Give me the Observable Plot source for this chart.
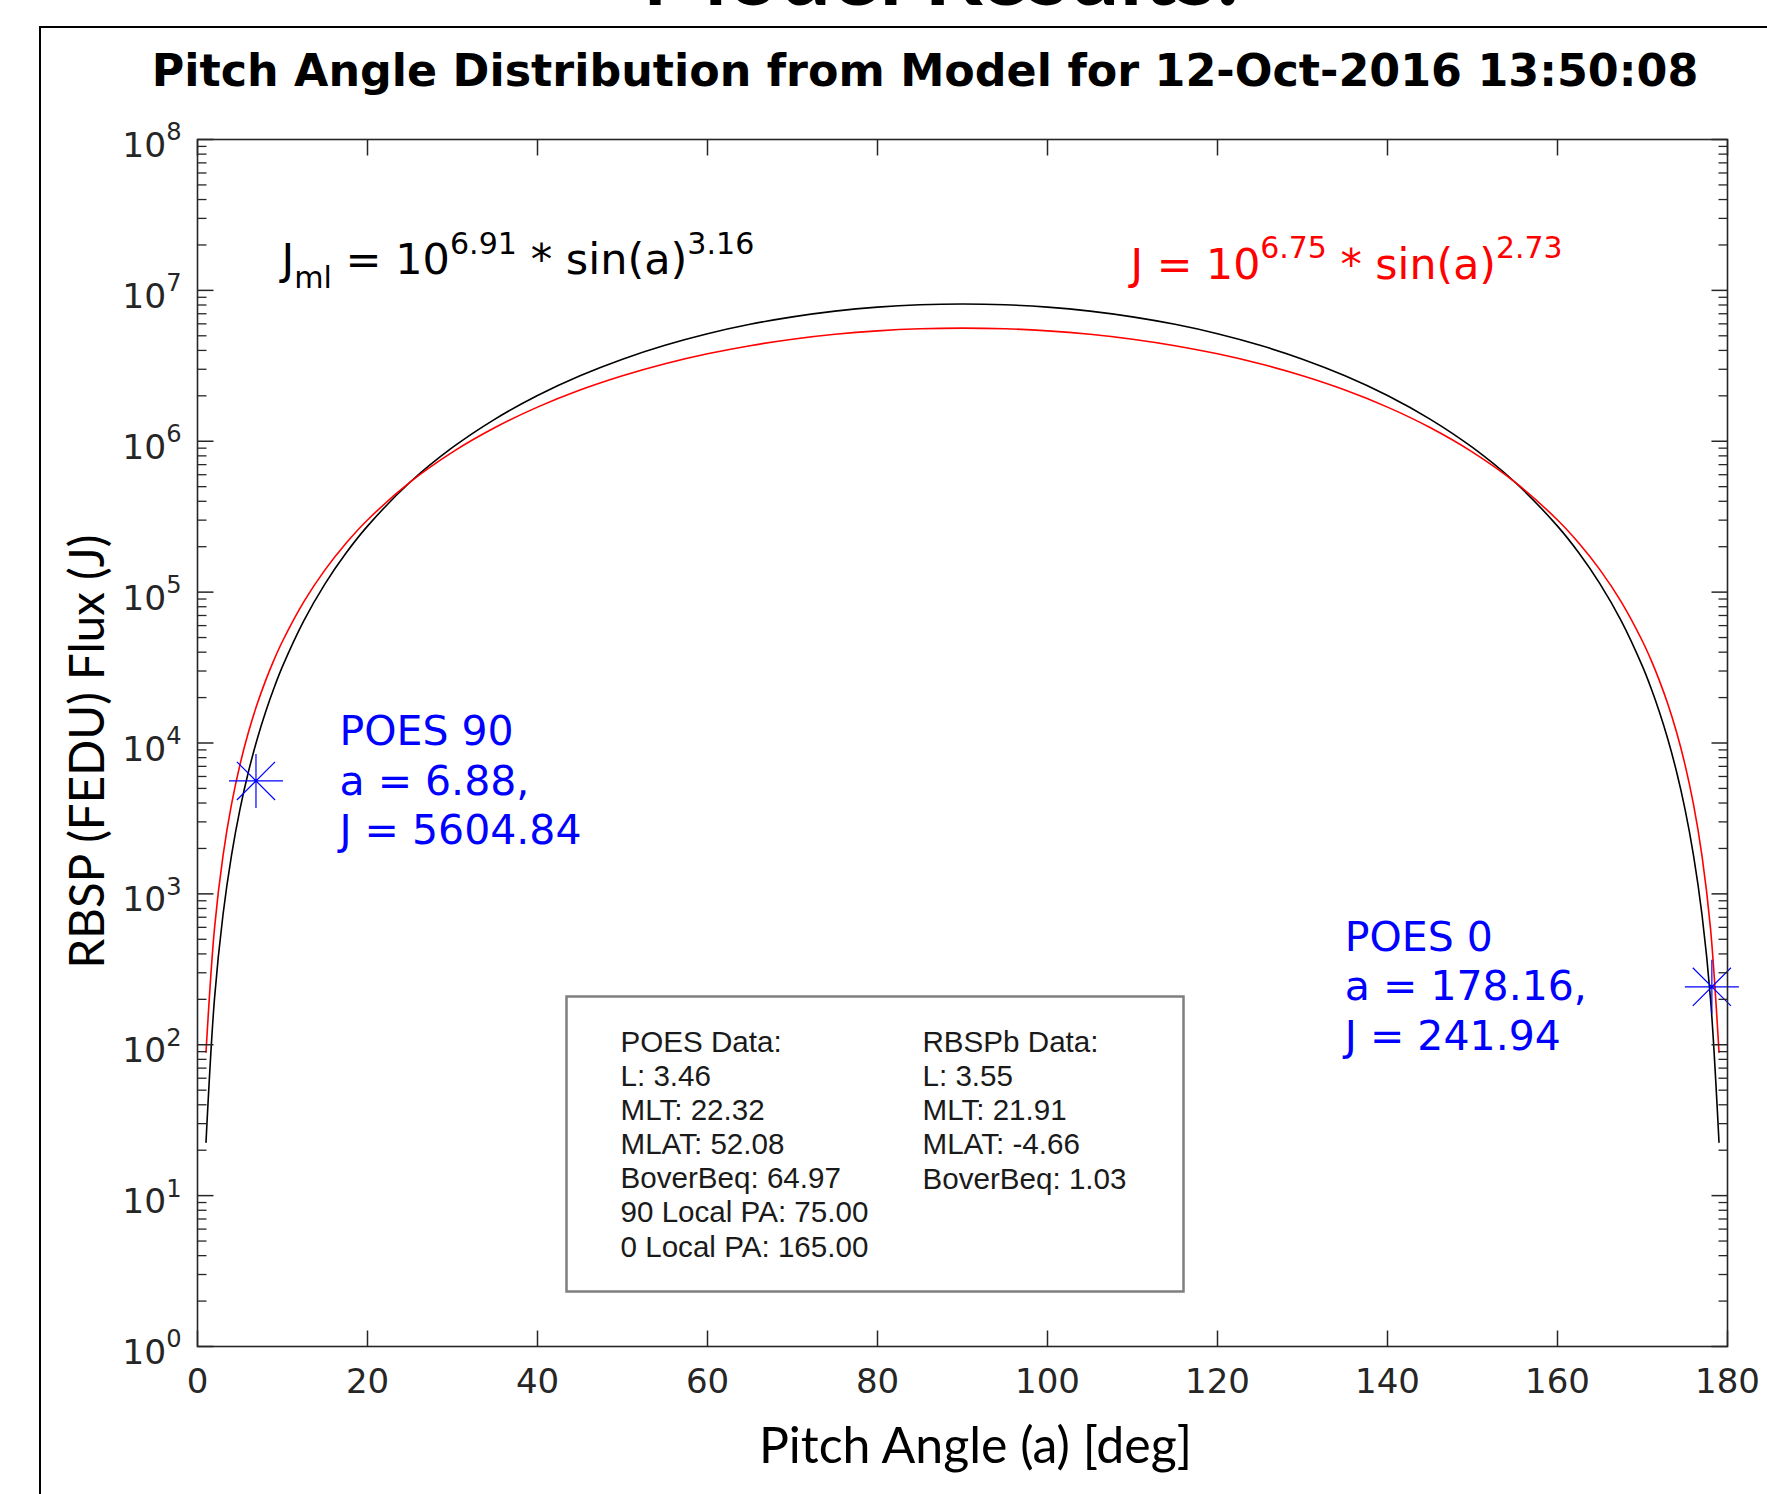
<!DOCTYPE html>
<html>
<head>
<meta charset="utf-8">
<script src="https://cdn.jsdelivr.net/npm/d3@7"></script>
<script src="https://cdn.jsdelivr.net/npm/@observablehq/plot@0.6"></script>
<style>
html, body { margin: 0; padding: 0; background: #fff; }
#page { position: relative; width: 1767px; height: 1494px; overflow: hidden; background: #fff; }
#border { position: absolute; left: 39px; top: 26px; width: 1800px; height: 1600px; border: 2px solid #000; box-sizing: border-box; }
#slide-title { position: absolute; left: 941px; top: -76px; transform: translateX(-50%); font: bold 91px Lato, sans-serif; white-space: nowrap; line-height: 1; color: #000; }
#chart-title { position: absolute; left: 925px; top: 49px; transform: translateX(-50%); font: bold 44.4px "DejaVu Sans", sans-serif; white-space: nowrap; line-height: 1; color: #000; }
#chart { position: absolute; left: 0; top: 100px; }
</style>
</head>
<body>
<div id="page">
  <div id="border"></div>
  <div id="slide-title">Model Results:</div>
  <div id="chart-title">Pitch Angle Distribution from Model for 12-Oct-2016 13:50:08</div>
  <div id="chart"></div>
</div>
<script>
// ---------- data ----------
const angles = [1, 2, 3, 4, 5, 6, 7, 8, 9, 10, 12.5, 15, 17.5, 20, 25, 30, 35, 40, 45, 50, 55, 60, 65, 70, 75, 80, 85, 90,
  95, 100, 105, 110, 115, 120, 125, 130, 135, 140, 145, 150, 155, 160, 162.5, 165, 167.5, 170, 171, 172, 173, 174, 175, 176, 177, 178, 179];

// black curve: J_ml model
const fluxModel = [22.6, 202, 727, 1802, 3642, 6467, 10505, 15980, 23130, 32170, 64500, 113500, 182400, 273900, 534600, 909300,
  1403000, 2012000, 2719000, 3501000, 4327000, 5160000, 5957000, 6676000, 7287000, 7745000, 8031000, 8128000,
  8031000, 7745000, 7287000, 6676000, 5957000, 5160000, 4327000, 3501000, 2719000, 2012000, 1403000, 909300, 534600,
  273900, 182400, 113500, 64500, 32170, 23130, 15980, 10505, 6467, 3642, 1802, 727, 202, 22.6];

// red curve: J fit
const fluxFit = [89.2, 591, 1788, 3918, 7194, 11815, 17970, 25810, 35530, 47240, 86200, 140400, 211500, 300600, 535700, 847600,
  1233000, 1683000, 2184000, 2716000, 3263000, 3798000, 4300000, 4747000, 5116000, 5393000, 5567000, 5623000,
  5567000, 5393000, 5116000, 4747000, 4300000, 3798000, 3263000, 2716000, 2184000, 1683000, 1233000, 847600, 535700,
  300600, 211500, 140400, 86200, 47240, 35530, 25810, 17970, 11815, 7194, 3918, 1788, 591, 89.2];

const poesAngles = [6.88, 178.16];
const poesFlux = [5604.84, 241.94];
const poesLabels = ["POES 90\na = 6.88,\nJ = 5604.84", "POES 0\na = 178.16,\nJ = 241.94"];

const eqModel = "J_{ml} = 10^{6.91} * sin(a)^{3.16}";
const eqFit = "J = 10^{6.75} * sin(a)^{2.73}";

const poesInfo = ["POES Data:", "L: 3.46", "MLT: 22.32", "MLAT: 52.08", "BoverBeq: 64.97", "90 Local PA: 75.00", "0 Local PA: 165.00"];
const rbspInfo = ["RBSPb Data:", "L: 3.55", "MLT: 21.91", "MLAT: -4.66", "BoverBeq: 1.03"];

const xTicks = [0, 20, 40, 60, 80, 100, 120, 140, 160, 180];
const yMajor = [1, 10, 100, 1e3, 1e4, 1e5, 1e6, 1e7, 1e8];
const yTickLabels = ["10^{0}", "10^{1}", "10^{2}", "10^{3}", "10^{4}", "10^{5}", "10^{6}", "10^{7}", "10^{8}"];
const yMinor = [];
for (let n = 0; n < 8; n++) for (let k = 2; k <= 9; k++) yMinor.push(k * Math.pow(10, n));

// ---------- helpers ----------
const lineSym = (dx, dy) => ({ draw(ctx) { ctx.moveTo(0, 0); ctx.lineTo(dx, dy); } });
const asteriskSym = {
  draw(ctx, size) {
    const r = Math.sqrt(size / Math.PI), h = r / Math.SQRT2;
    ctx.moveTo(-r, 0); ctx.lineTo(r, 0);
    ctx.moveTo(0, -r); ctx.lineTo(0, r);
    ctx.moveTo(-h, -h); ctx.lineTo(h, h);
    ctx.moveTo(-h, h); ctx.lineTo(h, -h);
  }
};

const axisColor = "#262626";
const idx = angles.map((_, i) => i);
const pIdx = poesAngles.map((_, i) => i);

const chart = Plot.plot({
  width: 1767,
  height: 1394,
  marginTop: 39,
  marginBottom: 148,
  marginLeft: 197,
  marginRight: 40,
  style: { background: "transparent", fontFamily: "DejaVu Sans", overflow: "visible" },
  x: { domain: [0, 180], axis: null },
  y: { type: "log", domain: [1, 1e8], axis: null },
  marks: [
    // curves
    Plot.line(idx, { x: i => angles[i], y: i => fluxModel[i], stroke: "#000000", strokeWidth: 1.6, curve: "catmull-rom" }),
    Plot.line(idx, { x: i => angles[i], y: i => fluxFit[i], stroke: "#ff0000", strokeWidth: 1.6, curve: "catmull-rom" }),
    // POES markers
    Plot.dot(pIdx, { x: i => poesAngles[i], y: i => poesFlux[i], r: 27, symbol: asteriskSym, stroke: "#0000ff", fill: "none", strokeWidth: 1.2 }),
    // axes box and ticks
    Plot.frame({ stroke: axisColor, strokeWidth: 1.6 }),
    Plot.dot(xTicks, { x: d => d, y: () => 1, symbol: lineSym(0, -16), stroke: axisColor, fill: "none", strokeWidth: 1.5 }),
    Plot.dot(xTicks, { x: d => d, y: () => 1e8, symbol: lineSym(0, 16), stroke: axisColor, fill: "none", strokeWidth: 1.5 }),
    Plot.dot(yMajor, { x: () => 0, y: d => d, symbol: lineSym(16, 0), stroke: axisColor, fill: "none", strokeWidth: 1.5 }),
    Plot.dot(yMajor, { x: () => 180, y: d => d, symbol: lineSym(-16, 0), stroke: axisColor, fill: "none", strokeWidth: 1.5 }),
    Plot.dot(yMinor, { x: () => 0, y: d => d, symbol: lineSym(9, 0), stroke: axisColor, fill: "none", strokeWidth: 1.3 }),
    Plot.dot(yMinor, { x: () => 180, y: d => d, symbol: lineSym(-9, 0), stroke: axisColor, fill: "none", strokeWidth: 1.3 }),
    // tick labels
    Plot.text(xTicks, { x: d => d, y: () => 1, text: d => String(d), textAnchor: "middle", lineAnchor: "bottom", dy: 46, fontSize: 34, fill: axisColor }),
    Plot.text(yMajor, { x: () => 0, y: d => d, text: (d, i) => yTickLabels[i], textAnchor: "end", lineAnchor: "bottom", dx: -16, dy: 17.5, fontSize: 34.5, fill: axisColor }),
    // axis labels
    Plot.text(["Pitch Angle (a) [deg]"], { frameAnchor: "bottom", text: d => d, lineAnchor: "bottom", dx: 13, dy: 116, fontSize: 50, fontFamily: "Lato", fill: "#000" }),
    Plot.text(["RBSP (FEDU) Flux (J)"], { frameAnchor: "left", text: d => d, rotate: -90, lineAnchor: "middle", textAnchor: "middle", dx: -109, dy: 8.5, fontSize: 47.5, fontFamily: "Lato", fill: "#000" }),
    // equations
    Plot.text([eqModel], { frameAnchor: "top-left", text: d => d, textAnchor: "start", lineAnchor: "bottom", dx: 84, dy: 134.7, fontSize: 43, fill: "#000" }),
    Plot.text([eqFit], { frameAnchor: "top-left", text: d => d, textAnchor: "start", lineAnchor: "bottom", dx: 933, dy: 139, fontSize: 42.7, fill: "#ff0000" }),
    // POES annotations
    Plot.text([0], { x: i => poesAngles[i], y: i => poesFlux[i], text: i => poesLabels[i], textAnchor: "start", lineAnchor: "middle", lineHeight: 1.21, dx: 83.5, dy: -2.3, fontSize: 41, fill: "#0000ff" }),
    Plot.text([1], { x: i => poesAngles[i], y: i => poesFlux[i], text: i => poesLabels[i], textAnchor: "start", lineAnchor: "middle", lineHeight: 1.21, dx: -367, dy: -2.3, fontSize: 41, fill: "#0000ff" }),
    // info text box
    Plot.frame({ insetLeft: 369, insetRight: 544, insetTop: 857, insetBottom: 55, stroke: "#7f7f7f", strokeWidth: 2.5, fill: "white" }),
    Plot.text([poesInfo.join("\n")], { frameAnchor: "top-left", text: d => d, textAnchor: "start", lineAnchor: "bottom", lineHeight: 1.15, dx: 423, dy: 1117, fontSize: 29.6, fontFamily: "Liberation Sans", fill: "#1a1a1a" }),
    Plot.text([rbspInfo.join("\n")], { frameAnchor: "top-left", text: d => d, textAnchor: "start", lineAnchor: "bottom", lineHeight: 1.15, dx: 725, dy: 1049, fontSize: 29.6, fontFamily: "Liberation Sans", fill: "#1a1a1a" })
  ]
});

document.getElementById("chart").appendChild(chart);

// superscript / subscript markup -> tspans
function richify(svg) {
  svg.querySelectorAll("text").forEach(t => {
    const s = t.textContent;
    if (!/[\^_]\{/.test(s)) return;
    const fs = parseFloat(getComputedStyle(t).fontSize);
    const sup = fs * 0.7, raise = fs * 0.48, drop = fs * 0.33;
    while (t.firstChild) t.removeChild(t.firstChild);
    const re = /([\^_])\{([^}]*)\}|([^\^_]+)/g;
    let m, cur = 0;
    while ((m = re.exec(s))) {
      const ts = document.createElementNS("http://www.w3.org/2000/svg", "tspan");
      let target, size;
      if (m[3] !== undefined) { ts.textContent = m[3]; target = 0; size = fs; }
      else { ts.textContent = m[2]; target = m[1] === "^" ? -raise : drop; size = sup; }
      ts.setAttribute("font-size", size);
      if (target !== cur) ts.setAttribute("dy", target - cur);
      cur = target;
      t.appendChild(ts);
    }
  });
}
richify(chart);
</script>
</body>
</html>
